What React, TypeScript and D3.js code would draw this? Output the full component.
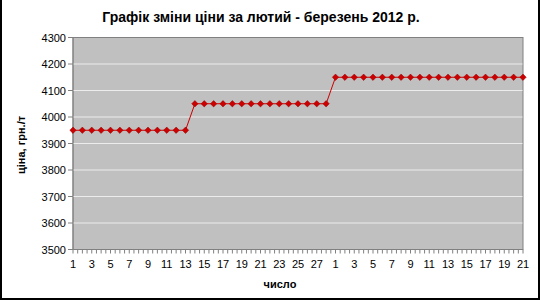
import React from "react";
import * as d3 from "d3";

const febDays: number[] = d3.range(1, 29);
const marDays: number[] = d3.range(1, 22);
const labels: string[] = [...febDays, ...marDays].map(String);
const prices: number[] = [
  3950, 3950, 3950, 3950, 3950, 3950, 3950, 3950, 3950, 3950, 3950, 3950, 3950,
  4050, 4050, 4050, 4050, 4050, 4050, 4050, 4050, 4050, 4050, 4050, 4050, 4050, 4050, 4050,
  4150, 4150, 4150, 4150, 4150, 4150, 4150, 4150, 4150, 4150, 4150, 4150, 4150, 4150, 4150,
  4150, 4150, 4150, 4150, 4150, 4150,
];
const yTicks: number[] = [3500, 3600, 3700, 3800, 3900, 4000, 4100, 4200, 4300];
const title = "Графік зміни ціни за лютий - березень 2012 р.";
const yTitle = "ціна, грн./т";
const xTitle = "число";

export default function App() {
  const W = 540, H = 300;
  const L = 73, R = 523, T = 37.5, B = 249.5;
  const x = d3.scaleLinear().domain([0, labels.length - 1]).range([L, R]);
  const y = d3.scaleLinear().domain([3500, 4300]).range([B, T]);
  const line = d3.line<number>().x((_, i) => x(i)).y((d) => y(d));
  const halfTicks = d3.range(0, labels.length - 1 + 0.001, 0.5);
  const font = "'Liberation Sans', Arial, sans-serif";
  const diamond = d3.symbol().type(d3.symbolDiamond2).size(26)();
  return (
    <svg width={W} height={H} style={{ position: "absolute", left: 0, top: 0, fontFamily: font }}>
      <rect x={0} y={0} width={W} height={H} fill="#fff" />
      <path d={`M1,0 V${H - 1} H${W - 1} V0`} fill="none" stroke="#000" strokeWidth={2} />
      <text x={261} y={22} textAnchor="middle" fontSize={14} fontWeight="bold">{title}</text>
      <rect x={L} y={T} width={R - L} height={B - T} fill="#c0c0c0" stroke="#808080" strokeWidth={1} />
      {yTicks.slice(1, -1).map((t) => (
        <line key={t} x1={L} x2={R - 0.5} y1={y(t)} y2={y(t)} stroke="#ececec" strokeWidth={1} />
      ))}
      <line x1={L} x2={L} y1={T} y2={B} stroke="#808080" />
      <line x1={L} x2={R} y1={B} y2={B} stroke="#808080" />
      {yTicks.map((t) => (
        <g key={t}>
          <line x1={L - 5} x2={L} y1={y(t)} y2={y(t)} stroke="#808080" />
          <text x={66} y={y(t) + 4} textAnchor="end" fontSize={11} fill="#000">{t}</text>
        </g>
      ))}
      {halfTicks.map((t) => (
        <line key={t} x1={x(t)} x2={x(t)} y1={B} y2={B + 4} stroke="#808080" />
      ))}
      {labels.map((lab, i) =>
        i % 2 === 0 ? (
          <text key={i} x={x(i)} y={268} textAnchor="middle" fontSize={11} fill="#000">{lab}</text>
        ) : null
      )}
      <path d={line(prices) || ""} fill="none" stroke="#cc0000" strokeWidth={1} />
      {prices.map((p, i) => (
        <path key={i} d={diamond || ""} transform={`translate(${x(i)},${y(p)})`} fill="#cc0000" stroke="#990000" strokeWidth={0.5} />
      ))}
      <text x={280} y={288} textAnchor="middle" fontSize={11} fontWeight="bold">{xTitle}</text>
      <text transform={`translate(25,145) rotate(-90)`} textAnchor="middle" fontSize={11} fontWeight="bold">{yTitle}</text>
    </svg>
  );
}
